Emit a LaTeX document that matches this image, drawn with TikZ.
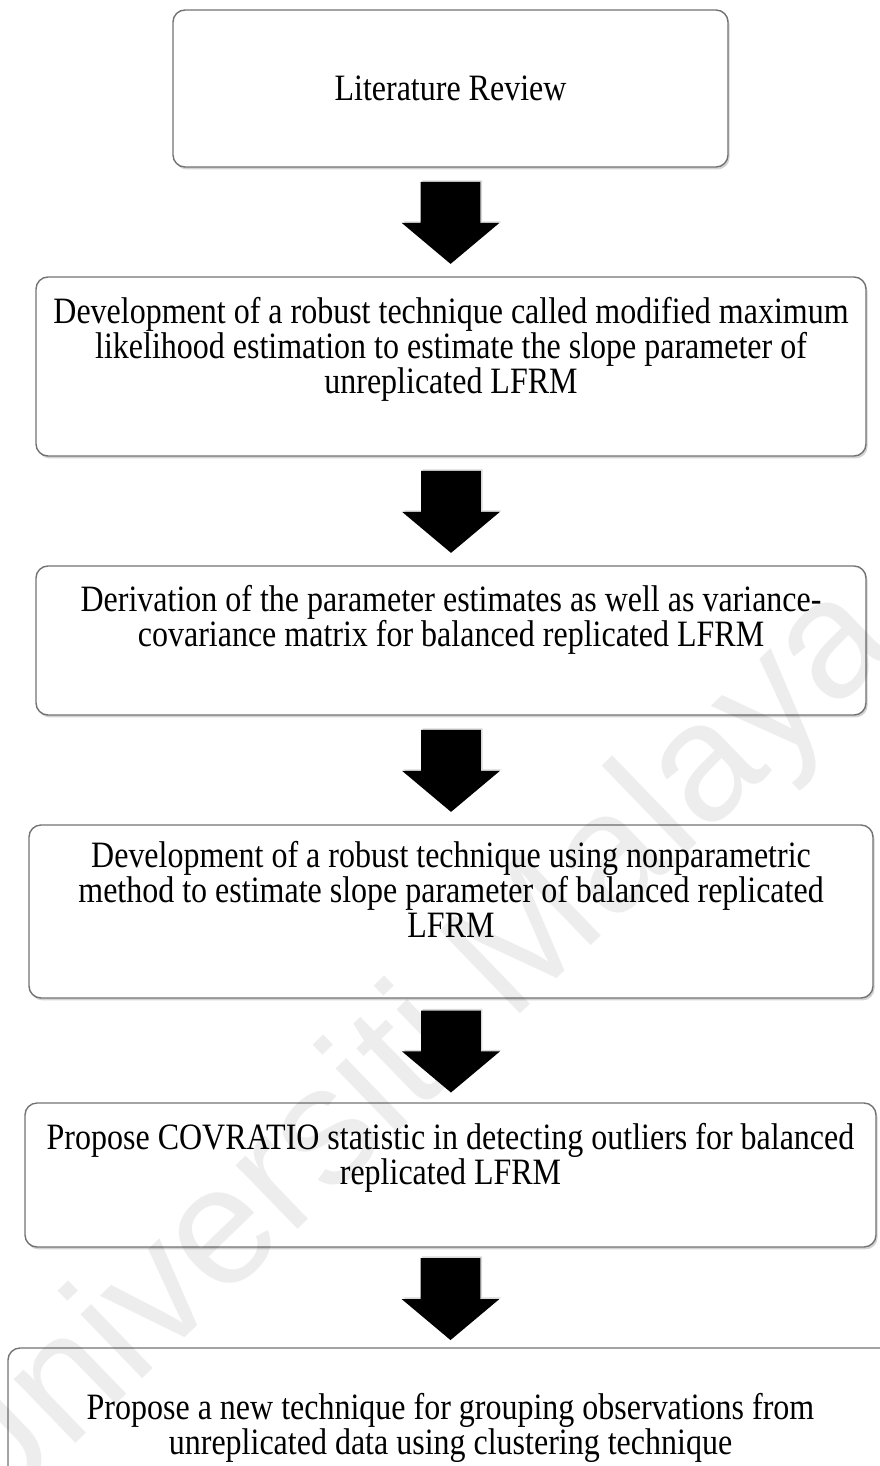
\documentclass[tikz,border=0pt]{standalone}
\usepackage{fontspec}
\setmainfont{Liberation Serif}[FakeStretch=0.86]
\newfontfamily\wmfont{Liberation Sans}
\usetikzlibrary{shapes.arrows,shadows}
\tikzset{
	stepbox/.style={draw=black!55, line width=0.7pt, rounded corners=6pt, fill=white,
		drop shadow={opacity=0.35, shadow xshift=0.8pt, shadow yshift=-1.2pt},
		align=center, inner sep=0pt, font=\fontsize{18.6}{17.5}\selectfont},
	downarrow/.style={single arrow, draw=none, fill=black, rotate=-90, anchor=tail,
		inner xsep=0pt, inner ysep=14.75pt, minimum height=41pt,
		single arrow head extend=9.5pt, single arrow tip angle=100,
		drop shadow={opacity=0.3, shadow xshift=0.8pt, shadow yshift=0.8pt}},
	watermark/.style={font=\wmfont\fontsize{84}{84}\selectfont, text=black,
		text opacity=0.07, rotate=44}
}

\begin{document}
\begin{tikzpicture}[x=0.5pt, y=-0.5pt]
	\useasboundingbox (0,0) rectangle (879,1466);
	
	\node[stepbox, minimum width=277.5pt, minimum height=78.5pt] (b1) at (450.5, 88.5) {Literature Review};
	\node[stepbox, minimum width=415pt, minimum height=89.5pt] (b2) at (451, 366.5) {Development of a robust technique called modified maximum\\ likelihood estimation to estimate the slope parameter of\\ unreplicated LFRM\\[4pt] \mbox{}};
	\node[stepbox, minimum width=415pt, minimum height=74.5pt] (b3) at (451, 640.5) {Derivation of the parameter estimates as well as variance-\\ covariance matrix for balanced replicated LFRM\\[7pt] \mbox{}};
	\node[stepbox, minimum width=422pt, minimum height=86.5pt] (b4) at (451, 911.5) {Development of a robust technique using nonparametric\\ method to estimate slope parameter of balanced replicated\\ LFRM\\[5pt] \mbox{}};
	\node[stepbox, minimum width=425.5pt, minimum height=72pt] (b5) at (450.5, 1175) {Propose COVRATIO statistic in detecting outliers for balanced\\ replicated LFRM\\[4pt] \mbox{}};
	\node[stepbox, minimum width=442.5pt, minimum height=80pt] (b6) at (450.5, 1428) {Propose a new technique for grouping observations from\\ unreplicated data using clustering technique};
	
	% block arrows between the steps
	\path (b1.south) -- (b2.north) node[downarrow, pos=.127] (a1) {};
	\path (b2.south) -- (b3.north) node[downarrow, pos=.127] (a2) {};
	\path (b3.south) -- (b4.north) node[downarrow, pos=.127] (a3) {};
	\path (b4.south) -- (b5.north) node[downarrow, pos=.11] (a4) {};
	\path (b5.south) -- (b6.north) node[downarrow, pos=.1] (a5) {};
	
	\node[watermark] (wm) at (410, 1060) {Universiti Malaya};
\end{tikzpicture}
\end{document}
